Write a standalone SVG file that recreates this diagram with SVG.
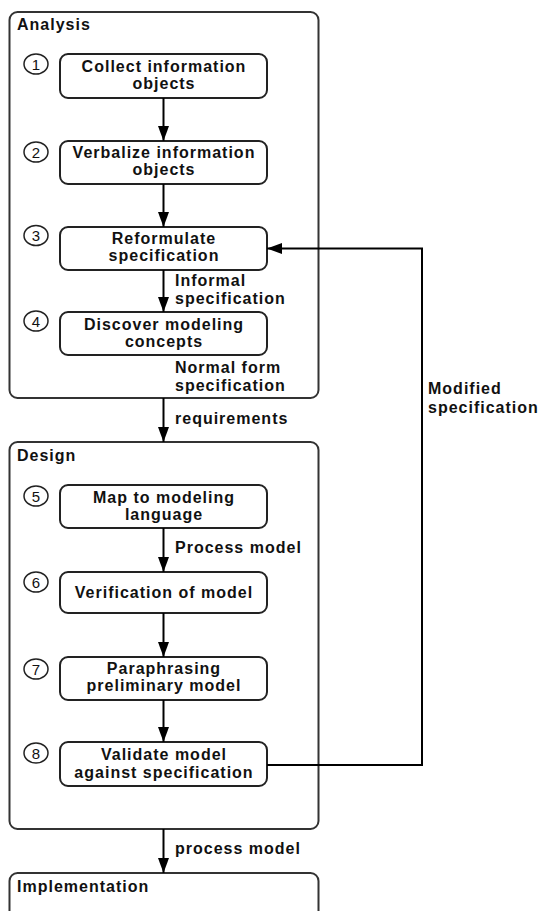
<svg xmlns="http://www.w3.org/2000/svg" width="539" height="911" viewBox="0 0 539 911">
  <defs>
    <marker id="arrow" markerUnits="userSpaceOnUse" markerWidth="16" markerHeight="12" refX="15" refY="6" orient="auto">
      <path d="M0,0.5 L15,6 L0,11.5 Z" fill="#000"/>
    </marker>
    <style>
      text { font-family: "Liberation Sans", Arial, Helvetica, sans-serif; fill: #111; }
      .phase { fill: #fff; stroke: #333; stroke-width: 2; }
      .step { fill: #fff; stroke: #222; stroke-width: 2; }
      .title { font-size: 16px; font-weight: bold; letter-spacing: 1px; }
      .lbl { font-size: 16px; font-weight: bold; letter-spacing: 1px; text-anchor: middle; }
      .note { font-size: 16px; font-weight: bold; letter-spacing: 1px; }
      .num-c { fill: #fff; stroke: #222; stroke-width: 1.5; }
      .num { font-size: 15px; text-anchor: middle; }
      .edge { fill: none; stroke: #000; stroke-width: 2; }
    </style>
  </defs>
  <rect width="539" height="911" fill="#fff"/>

  <!-- phase containers -->
  <g id="analysis">
    <rect class="phase" x="9.5" y="12" width="309" height="386" rx="8"/>
    <text class="title" x="17" y="30">Analysis</text>
  </g>
  <g id="design">
    <rect class="phase" x="9.5" y="442" width="309" height="387" rx="8"/>
    <text class="title" x="17" y="461">Design</text>
  </g>
  <g id="implementation">
    <rect class="phase" x="9.5" y="873" width="309" height="60" rx="8"/>
    <text class="title" x="17" y="892">Implementation</text>
  </g>

  <!-- steps -->
  <g id="step1">
    <ellipse class="num-c" cx="36" cy="64" rx="12" ry="10"/>
    <text class="num" x="36" y="69.5">1</text>
    <rect class="step" x="60" y="54" width="207" height="44" rx="8"/>
    <text class="lbl" x="164" y="72">Collect information</text>
    <text class="lbl" x="164" y="89">objects</text>
  </g>
  <g id="step2">
    <ellipse class="num-c" cx="36" cy="152" rx="12" ry="10"/>
    <text class="num" x="36" y="157.5">2</text>
    <rect class="step" x="60" y="141" width="207" height="43" rx="8"/>
    <text class="lbl" x="164" y="157.5">Verbalize information</text>
    <text class="lbl" x="164" y="175">objects</text>
  </g>
  <g id="step3">
    <ellipse class="num-c" cx="36" cy="235.5" rx="12" ry="10"/>
    <text class="num" x="36" y="241">3</text>
    <rect class="step" x="60" y="227" width="207" height="43" rx="8"/>
    <text class="lbl" x="164" y="243.5">Reformulate</text>
    <text class="lbl" x="164" y="261">specification</text>
  </g>
  <g id="step4">
    <ellipse class="num-c" cx="36" cy="321" rx="12" ry="10"/>
    <text class="num" x="36" y="326.5">4</text>
    <rect class="step" x="60" y="312" width="207" height="43" rx="8"/>
    <text class="lbl" x="164" y="329.5">Discover modeling</text>
    <text class="lbl" x="164" y="347">concepts</text>
  </g>
  <g id="step5">
    <ellipse class="num-c" cx="36" cy="496" rx="12" ry="10"/>
    <text class="num" x="36" y="501.5">5</text>
    <rect class="step" x="60" y="485" width="207" height="43" rx="8"/>
    <text class="lbl" x="164" y="502.5">Map to modeling</text>
    <text class="lbl" x="164" y="519.5">language</text>
  </g>
  <g id="step6">
    <ellipse class="num-c" cx="36" cy="582" rx="12" ry="10"/>
    <text class="num" x="36" y="587.5">6</text>
    <rect class="step" x="60" y="572" width="207" height="41" rx="8"/>
    <text class="lbl" x="164" y="598">Verification of model</text>
  </g>
  <g id="step7">
    <ellipse class="num-c" cx="36" cy="669" rx="12" ry="10"/>
    <text class="num" x="36" y="674.5">7</text>
    <rect class="step" x="60" y="657" width="207" height="43" rx="8"/>
    <text class="lbl" x="164" y="673.5">Paraphrasing</text>
    <text class="lbl" x="164" y="690.5">preliminary model</text>
  </g>
  <g id="step8">
    <ellipse class="num-c" cx="36" cy="753" rx="12" ry="10"/>
    <text class="num" x="36" y="758.5">8</text>
    <rect class="step" x="60" y="742" width="207" height="44" rx="8"/>
    <text class="lbl" x="164" y="759.5">Validate model</text>
    <text class="lbl" x="164" y="777.5">against specification</text>
  </g>

  <!-- connectors -->
  <g id="connectors">
    <line class="edge" x1="163.5" y1="98" x2="163.5" y2="141" marker-end="url(#arrow)"/>
    <line class="edge" x1="163.5" y1="184" x2="163.5" y2="227" marker-end="url(#arrow)"/>
    <line class="edge" x1="163.5" y1="270" x2="163.5" y2="312" marker-end="url(#arrow)"/>
    <line class="edge" x1="163.5" y1="398" x2="163.5" y2="442" marker-end="url(#arrow)"/>
    <line class="edge" x1="163.5" y1="528" x2="163.5" y2="572" marker-end="url(#arrow)"/>
    <line class="edge" x1="163.5" y1="613" x2="163.5" y2="657" marker-end="url(#arrow)"/>
    <line class="edge" x1="163.5" y1="700" x2="163.5" y2="742" marker-end="url(#arrow)"/>
    <line class="edge" x1="163.5" y1="829" x2="163.5" y2="873" marker-end="url(#arrow)"/>
    <path class="edge" d="M267,765 H422 V248.5 H267" marker-end="url(#arrow)"/>

    <text class="note" x="175" y="285.5">Informal</text>
    <text class="note" x="175" y="303.5">specification</text>
    <text class="note" x="175" y="372.5">Normal form</text>
    <text class="note" x="175" y="390.5">specification</text>
    <text class="note" x="175" y="423.5">requirements</text>
    <text class="note" x="175" y="552.5">Process model</text>
    <text class="note" x="175" y="853.5">process model</text>
    <text class="note" x="428" y="393.5">Modified</text>
    <text class="note" x="428" y="412.5">specification</text>
  </g>
</svg>
